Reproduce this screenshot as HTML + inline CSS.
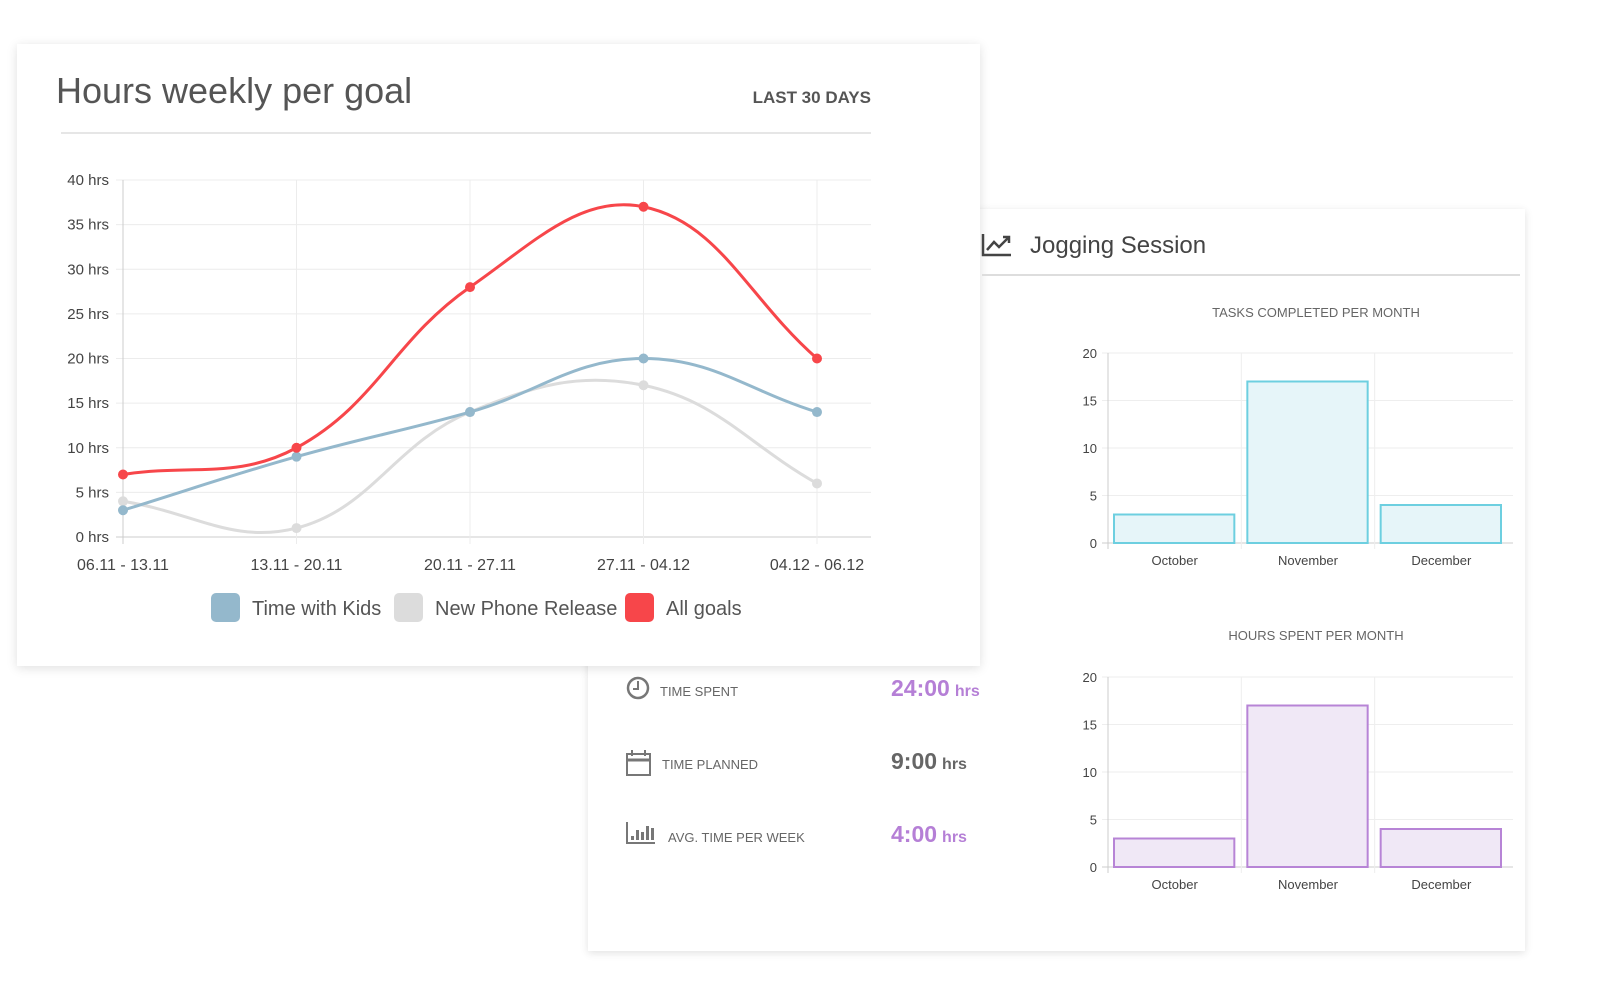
<!DOCTYPE html>
<html><head><meta charset="utf-8"><style>
body{margin:0;width:1600px;height:990px;background:#fff;position:relative;overflow:hidden;font-family:"Liberation Sans",sans-serif;}
.card{position:absolute;background:#fff;}
#right{left:588px;top:209px;width:937px;height:742px;box-shadow:0 2px 8px rgba(0,0,0,0.12);}
#left{left:17px;top:44px;width:963px;height:622px;box-shadow:0 2px 10px rgba(0,0,0,0.13);}
svg{position:absolute;left:0;top:0;}
</style></head><body>
<div id="right" class="card"></div>
<div id="left" class="card"></div>
<svg id="s" width="1600" height="990" font-family="Liberation Sans, sans-serif"></svg>
<script>
// Line chart data
const weeks=["06.11 - 13.11","13.11 - 20.11","20.11 - 27.11","27.11 - 04.12","04.12 - 06.12"];
const kids=[3,9,14,20,14];
const phone=[4,1,14,17,6];
const allGoals=[7,10,28,37,20];
const yTicks=[0,5,10,15,20,25,30,35,40];
// Bar chart data
const months=["October","November","December"];
const tasks=[3,17,4];
const hours=[3,17,4];
const barTicks=[0,5,10,15,20];

const NS="http://www.w3.org/2000/svg";
const svg=document.getElementById('s');
function el(tag,attrs,parent,text){const e=document.createElementNS(NS,tag);for(const k in attrs)e.setAttribute(k,attrs[k]);if(text!==undefined)e.textContent=text;(parent||svg).appendChild(e);return e;}

// Left card header
let t=el('text',{x:56,y:103,'font-size':36,fill:'#555'},svg,'Hours weekly per goal');


t=el('text',{x:871,y:103,'font-size':17,'font-weight':'bold',fill:'#555','text-anchor':'end'},svg,'LAST 30 DAYS');


el('line',{x1:61,x2:871,y1:133,y2:133,stroke:'#e6e6e6','stroke-width':2});

// Line chart axes
const X0=123,X1=817,Y0=537,Y40=180;
const xs=i=>X0+i*(X1-X0)/(weeks.length-1);
const ys=v=>Y0-(v/40)*(Y0-Y40);
const g=el('g',{});


yTicks.forEach(v=>{
  el('line',{x1:116,x2:871,y1:ys(v),y2:ys(v),stroke:v===0?'#ccc':'#ececec','stroke-width':1},g);
  const l=el('text',{x:109,y:ys(v)+5,'font-size':15,fill:'#444','text-anchor':'end'},g,v+' hrs');
  
  
});
weeks.forEach((w,i)=>{
  el('line',{x1:xs(i),x2:xs(i),y1:Y40,y2:Y0+7,stroke:i===0?'#ccc':'#ececec'},g);
  const l=el('text',{x:xs(i),y:570,'font-size':16,fill:'#444','text-anchor':'middle'},g,w);
  
  
});
function spline(vals){
  const p=vals.map((v,i)=>[xs(i),ys(v)]);const T=0.4;const cps=[];
  for(let i=0;i<p.length;i++){
    const prev=p[Math.max(0,i-1)],cur=p[i],next=p[Math.min(p.length-1,i+1)];
    const d01=Math.hypot(cur[0]-prev[0],cur[1]-prev[1]),d12=Math.hypot(next[0]-cur[0],next[1]-cur[1]);
    let fa=d01/(d01+d12)||0,fb=d12/(d01+d12)||0;fa*=T;fb*=T;
    cps.push({p:[cur[0]-fa*(next[0]-prev[0]),cur[1]-fa*(next[1]-prev[1])],n:[cur[0]+fb*(next[0]-prev[0]),cur[1]+fb*(next[1]-prev[1])]});
  }
  let d='M'+p[0][0]+','+p[0][1];
  for(let i=1;i<p.length;i++){d+=' C'+cps[i-1].n.join(',')+' '+cps[i].p.join(',')+' '+p[i].join(',');}
  return d;
}
[[phone,'#dcdcdc','phone'],[kids,'#94b8cc','kids'],[allGoals,'#f7464a','all-goals']].forEach(([vals,c,n])=>{
  const path=el('path',{d:spline(vals),fill:'none',stroke:c,'stroke-width':3},g);
  
  
  vals.forEach((v,i)=>{
    const pt=el('circle',{cx:xs(i),cy:ys(v),r:5,fill:c},g);
    
    
  });
});
// Legend
[[211,'#94b8cc','Time with Kids',252],[394,'#dcdcdc','New Phone Release',435],[625,'#f7464a','All goals',666]].forEach(([x,c,txt,tx])=>{
  const lg=el('g',{});
  
  
  el('rect',{x:x,y:593,width:29,height:29,rx:5,fill:c},lg);
  el('text',{x:tx,y:615,'font-size':20,fill:'#555'},lg,txt);
});

// Right card header
const ic=el('g',{stroke:'#444','stroke-width':2.5,fill:'none'});


el('polyline',{points:'983,234 983,255 1011,255'},ic);
el('polyline',{points:'987,250 994,242 999,247 1009,237'},ic);
el('polyline',{points:'1003,237 1009,237 1009,243'},ic);
t=el('text',{x:1030,y:253,'font-size':24,fill:'#444'},svg,'Jogging Session');


el('line',{x1:982,x2:1520,y1:275,y2:275,stroke:'#ddd','stroke-width':2});

function barChart(title,titleY,yTop,yZero,labelY,vals,stroke,fill,name){
  const bg=el('g',{});
  
  
  const tt=el('text',{x:1316,y:titleY,'font-size':13,fill:'#666','text-anchor':'middle'},bg,title);
  
  
  const L=1108,R=1508,GR=1513;const by=v=>yZero-(v/20)*(yZero-yTop);const cw=(R-L)/vals.length;
  barTicks.forEach(v=>{
    el('line',{x1:1102,x2:GR,y1:by(v),y2:by(v),stroke:v===0?'#ccc':'#eee'},bg);
    el('text',{x:1097,y:by(v)+5,'font-size':13,fill:'#444','text-anchor':'end'},bg,v);
  });
  for(let i=0;i<vals.length;i++)el('line',{x1:L+i*cw,x2:L+i*cw,y1:yTop,y2:yZero+6,stroke:i===0?'#ccc':'#eee'},bg);
  vals.forEach((v,i)=>{
    const r=el('rect',{x:L+i*cw+6,y:by(v),width:cw-13,height:yZero-by(v),fill:fill,stroke:stroke,'stroke-width':2},bg);
    
    
    el('text',{x:L+i*cw+cw/2,y:labelY,'font-size':13,fill:'#444','text-anchor':'middle'},bg,months[i]);
  });
}
barChart('TASKS COMPLETED PER MONTH',317,353,543,565,tasks,'#6dcfe0','#e6f5f9','tasks-bar-chart');
barChart('HOURS SPENT PER MONTH',640,677,867,889,hours,'#b784d6','#f0e8f6','hours-bar-chart');

// Stats
const sg=el('g',{});


el('circle',{cx:638,cy:688,r:10,fill:'none',stroke:'#777','stroke-width':2.5},sg);
el('polyline',{points:'638,681 638,689 633,689',fill:'none',stroke:'#777','stroke-width':2},sg);
el('rect',{x:627,y:754,width:23,height:21,fill:'none',stroke:'#777','stroke-width':2},sg);
el('line',{x1:627,x2:650,y1:760,y2:760,stroke:'#777','stroke-width':3},sg);
el('line',{x1:632,x2:632,y1:750,y2:756,stroke:'#777','stroke-width':2},sg);
el('line',{x1:645,x2:645,y1:750,y2:756,stroke:'#777','stroke-width':2},sg);
el('polyline',{points:'627,822 627,843 655,843',fill:'none',stroke:'#777','stroke-width':2},sg);
[[631,836],[636,830],[641,832],[646,826],[651,828]].forEach(([x,y])=>el('rect',{x:x,y:y,width:3,height:840-y,fill:'#777'},sg));
[['TIME SPENT',660,696,'24:00','#b57fd6',696],['TIME PLANNED',662,769,'9:00','#666',769],['AVG. TIME PER WEEK',668,842,'4:00','#b57fd6',842]].forEach(([lab,lx,y,val,c,vy])=>{
  const l=el('text',{x:lx,y:y,'font-size':13,fill:'#666'},sg,lab);
  
  
  const v=el('text',{x:891,y:vy,'font-size':23,'font-weight':'bold',fill:c},sg);
  
  
  el('tspan',{},v,val);el('tspan',{'font-size':16,dx:5},v,'hrs');
});
</script>
</body></html>
